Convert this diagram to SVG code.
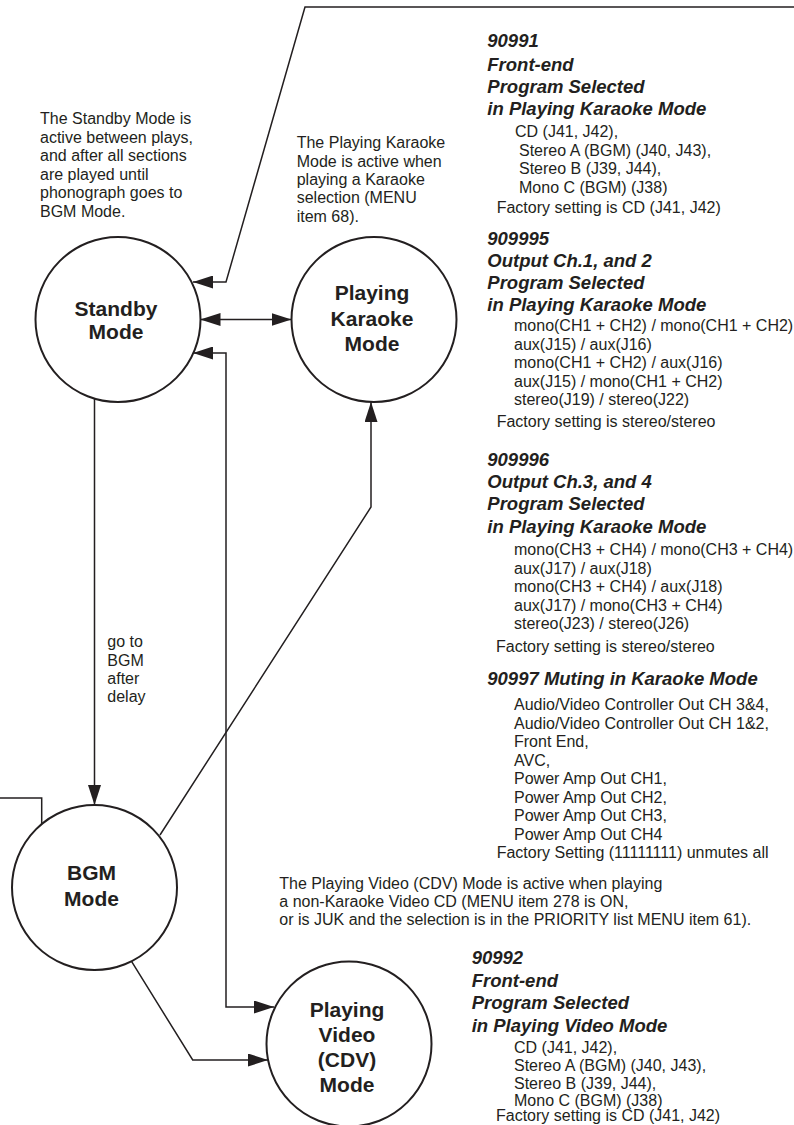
<svg xmlns="http://www.w3.org/2000/svg" width="794" height="1125" viewBox="0 0 794 1125">
<style>
.t{font-family:"Liberation Sans",Arial,sans-serif;font-size:16px;fill:#231f20}
.h{font-family:"Liberation Sans",Arial,sans-serif;font-size:18.5px;font-weight:bold;font-style:italic;fill:#231f20}
.n{font-family:"Liberation Sans",Arial,sans-serif;font-size:21px;font-weight:bold;fill:#231f20;text-anchor:middle}
.c{fill:#fff;stroke:#231f20;stroke-width:2}
.l{fill:none;stroke:#231f20;stroke-width:1.5}
</style>
<defs>
<marker id="ah" markerUnits="userSpaceOnUse" markerWidth="20" markerHeight="13" refX="20" refY="6.5" orient="auto-start-reverse" viewBox="0 0 20 13">
<path d="M0,0 L20,6.5 L0,13 z" fill="#231f20"/>
</marker>
</defs>
<rect width="794" height="1125" fill="#fff"/>
<g id="connectors">
<path class="l" d="M794,7 H305 L226,282 H193" marker-end="url(#ah)"/>
<path class="l" d="M200.5,319.5 H291.5" marker-start="url(#ah)" marker-end="url(#ah)"/>
<path class="l" d="M193,353 H226 V1007 H274" marker-start="url(#ah)" marker-end="url(#ah)"/>
<path class="l" d="M160,835 L371,507 V402" marker-end="url(#ah)"/>
<path class="l" d="M94.5,398.5 V805" marker-end="url(#ah)"/>
<path class="l" d="M0,798 H41.7 V824"/>
<path class="l" d="M131.7,961.7 L192.7,1060 H268" marker-end="url(#ah)"/>
</g>
<g id="standby">
<circle class="c" cx="118" cy="319.5" r="82.5"/>
<text class="n" x="116" y="315.5">Standby</text>
<text class="n" x="116" y="339">Mode</text>
</g>
<g id="karaoke">
<circle class="c" cx="374" cy="319.5" r="82.5"/>
<text class="n" x="372" y="300">Playing</text>
<text class="n" x="372" y="325.5">Karaoke</text>
<text class="n" x="372" y="350.5">Mode</text>
</g>
<g id="bgm">
<circle class="c" cx="94.5" cy="887.5" r="82.5"/>
<text class="n" x="91.5" y="880">BGM</text>
<text class="n" x="91.5" y="905.5">Mode</text>
</g>
<g id="video">
<circle class="c" cx="349" cy="1044" r="82.5"/>
<text class="n" x="347" y="1016.5">Playing</text>
<text class="n" x="347" y="1042">Video</text>
<text class="n" x="347" y="1067">(CDV)</text>
<text class="n" x="347" y="1092">Mode</text>
</g>
<g id="note-standby">
<text class="t" x="40" y="124">The Standby Mode is</text>
<text class="t" x="40" y="142.5">active between plays,</text>
<text class="t" x="40" y="161">and after all sections</text>
<text class="t" x="40" y="179.5">are played until</text>
<text class="t" x="40" y="198">phonograph goes to</text>
<text class="t" x="40" y="216.5">BGM Mode.</text>
</g>
<g id="note-karaoke">
<text class="t" x="296.7" y="148.3">The Playing Karaoke</text>
<text class="t" x="296.7" y="166.7">Mode is active when</text>
<text class="t" x="296.7" y="185">playing a Karaoke</text>
<text class="t" x="296.7" y="203.3">selection (MENU</text>
<text class="t" x="296.7" y="221.7">item 68).</text>
</g>
<g id="label-delay">
<text class="t" x="107.3" y="647">go to</text>
<text class="t" x="107.3" y="665.5">BGM</text>
<text class="t" x="107.3" y="684">after</text>
<text class="t" x="107.3" y="702">delay</text>
</g>
<g id="sec-90991">
<text class="h" x="487.3" y="47.3">90991</text>
<text class="h" x="487.3" y="70.7">Front-end</text>
<text class="h" x="487.3" y="92.7">Program Selected</text>
<text class="h" x="487.3" y="115">in Playing Karaoke Mode</text>
<text class="t" x="515" y="137.3">CD (J41, J42),</text>
<text class="t" x="519" y="156">Stereo A (BGM) (J40, J43),</text>
<text class="t" x="519" y="174.3">Stereo B (J39, J44),</text>
<text class="t" x="519" y="192.7">Mono C (BGM) (J38)</text>
<text class="t" x="496.7" y="213.3">Factory setting is CD (J41, J42)</text>
</g>
<g id="sec-909995">
<text class="h" x="487.3" y="245">909995</text>
<text class="h" x="487.3" y="266.7">Output Ch.1, and 2</text>
<text class="h" x="487.3" y="288.5">Program Selected</text>
<text class="h" x="487.3" y="311">in Playing Karaoke Mode</text>
<text class="t" x="514" y="331">mono(CH1 + CH2) / mono(CH1 + CH2)</text>
<text class="t" x="514" y="349.5">aux(J15) / aux(J16)</text>
<text class="t" x="514" y="368">mono(CH1 + CH2) / aux(J16)</text>
<text class="t" x="514" y="386.5">aux(J15) / mono(CH1 + CH2)</text>
<text class="t" x="514" y="405">stereo(J19) / stereo(J22)</text>
<text class="t" x="496.7" y="426.5">Factory setting is stereo/stereo</text>
</g>
<g id="sec-909996">
<text class="h" x="487.3" y="466">909996</text>
<text class="h" x="487.3" y="488.3">Output Ch.3, and 4</text>
<text class="h" x="487.3" y="510">Program Selected</text>
<text class="h" x="487.3" y="532.7">in Playing Karaoke Mode</text>
<text class="t" x="514" y="555">mono(CH3 + CH4) / mono(CH3 + CH4)</text>
<text class="t" x="514" y="573.5">aux(J17) / aux(J18)</text>
<text class="t" x="514" y="592">mono(CH3 + CH4) / aux(J18)</text>
<text class="t" x="514" y="610.5">aux(J17) / mono(CH3 + CH4)</text>
<text class="t" x="514" y="629">stereo(J23) / stereo(J26)</text>
<text class="t" x="496" y="651.5">Factory setting is stereo/stereo</text>
</g>
<g id="sec-90997">
<text class="h" x="487.3" y="685">90997 Muting in Karaoke Mode</text>
<text class="t" x="514" y="710">Audio/Video Controller Out CH 3&amp;4,</text>
<text class="t" x="514" y="728.5">Audio/Video Controller Out CH 1&amp;2,</text>
<text class="t" x="514" y="747">Front End,</text>
<text class="t" x="514" y="765.5">AVC,</text>
<text class="t" x="514" y="784">Power Amp Out CH1,</text>
<text class="t" x="514" y="802.5">Power Amp Out CH2,</text>
<text class="t" x="514" y="821">Power Amp Out CH3,</text>
<text class="t" x="514" y="839.5">Power Amp Out CH4</text>
<text class="t" x="496.7" y="858">Factory Setting (11111111) unmutes all</text>
</g>
<g id="note-video">
<text class="t" x="279.3" y="889.3">The Playing Video (CDV) Mode is active when playing</text>
<text class="t" x="279.3" y="907">a non-Karaoke Video CD (MENU item 278 is ON,</text>
<text class="t" x="279.3" y="924.5">or is JUK and the selection is in the PRIORITY list MENU item 61).</text>
</g>
<g id="sec-90992">
<text class="h" x="471.7" y="964">90992</text>
<text class="h" x="471.7" y="986.7">Front-end</text>
<text class="h" x="471.7" y="1009.3">Program Selected</text>
<text class="h" x="471.7" y="1031.7">in Playing Video Mode</text>
<text class="t" x="514" y="1052.5">CD (J41, J42),</text>
<text class="t" x="514" y="1070.5">Stereo A (BGM) (J40, J43),</text>
<text class="t" x="514" y="1088.5">Stereo B (J39, J44),</text>
<text class="t" x="514" y="1106">Mono C (BGM) (J38)</text>
<text class="t" x="496" y="1121">Factory setting is CD (J41, J42)</text>
</g>
</svg>
